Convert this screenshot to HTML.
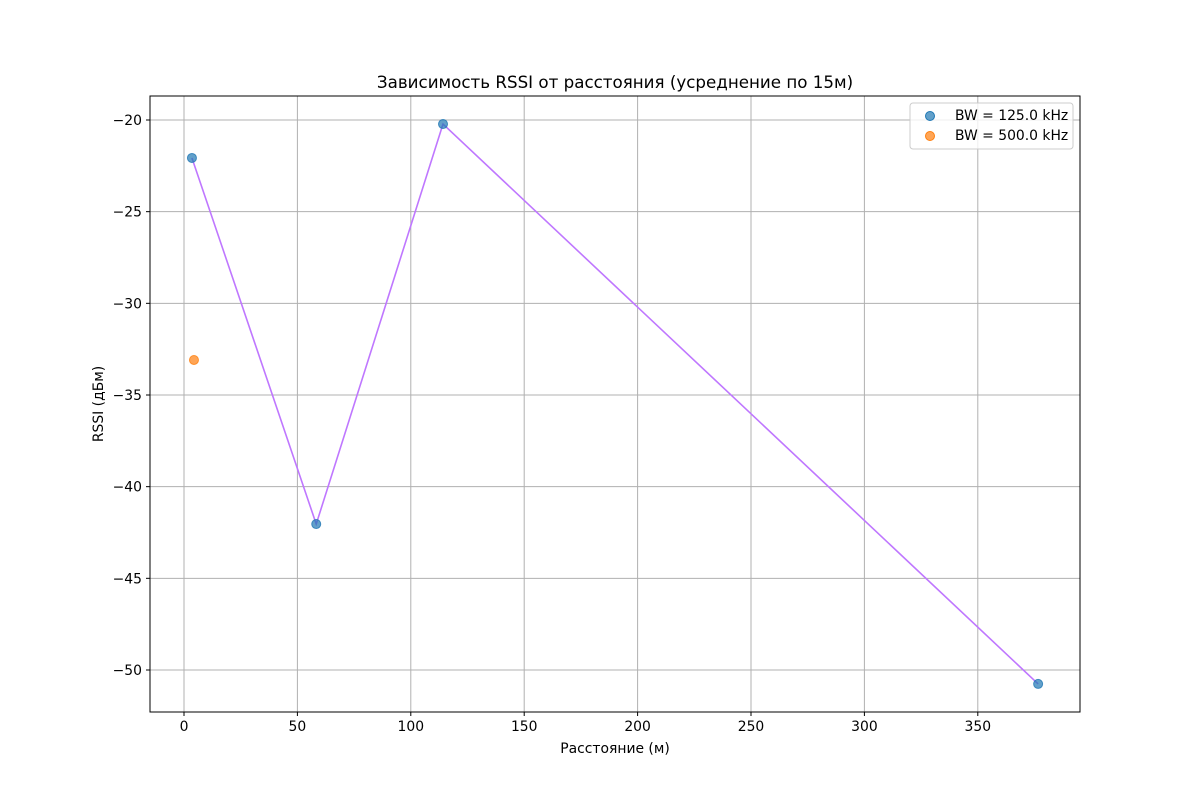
<!DOCTYPE html>
<html><head><meta charset="utf-8"><style>
body{margin:0;background:#fff}
svg text{font-family:"DejaVu Sans","Liberation Sans",sans-serif;fill:#000}
</style></head><body>
<svg width="1200" height="800" xmlns="http://www.w3.org/2000/svg">
<rect width="1200" height="800" fill="#fff"/>
<g id="grid"></g>
<g id="plot"></g>
<rect x="150" y="96" width="930" height="616" fill="none" stroke="#000" stroke-width="1"/>
<g id="ticks"></g>
<text x="615" y="88" text-anchor="middle" font-size="16.7">Зависимость RSSI от расстояния (усреднение по 15м)</text>
<text x="615" y="753" text-anchor="middle" font-size="13.9">Расстояние (м)</text>
<text x="103" y="404" text-anchor="middle" font-size="13.9" transform="rotate(-90 103 404)">RSSI (дБм)</text>
<g>
<rect x="910" y="103" width="163" height="46" rx="3" fill="#fff" fill-opacity="0.8" stroke="#ccc"/>
<circle cx="930" cy="116" r="4.5" fill="#1f77b4" fill-opacity="0.7" stroke="#1f77b4"/>
<text x="955" y="120" font-size="13.9">BW = 125.0 kHz</text>
<circle cx="930" cy="136" r="4.5" fill="#ff7f0e" fill-opacity="0.7" stroke="#ff7f0e"/>
<text x="955" y="140" font-size="13.9">BW = 500.0 kHz</text>
</g>
</svg>
<script>
const xTicks=[0,50,100,150,200,250,300,350];
const yTicks=[-20,-25,-30,-35,-40,-45,-50];
const bw125X=[3.5,58.3,114.2,376.6];
const bw125Y=[-22.07,-42.04,-20.22,-50.76];
const bw500X=[4.4];
const bw500Y=[-33.09];
const ns="http://www.w3.org/2000/svg";
const X=v=>184+v*2.268, Y=v=>120-(v+20)*18.333;
function mk(t,a,p){const e=document.createElementNS(ns,t);for(const k in a)e.setAttribute(k,a[k]);p.appendChild(e);return e;}
const g=document.getElementById('grid'),tk=document.getElementById('ticks'),pl=document.getElementById('plot');
xTicks.forEach(v=>{const x=X(v);
mk('line',{x1:x,x2:x,y1:96,y2:712,stroke:'#b0b0b0','stroke-width':1},g);
mk('line',{x1:x,x2:x,y1:712,y2:716,stroke:'#000'},tk);
const t=mk('text',{x:x,y:731,'text-anchor':'middle','font-size':13.9},tk);t.textContent=v;

});
yTicks.forEach(v=>{const y=Y(v);
mk('line',{x1:150,x2:1080,y1:y,y2:y,stroke:'#b0b0b0','stroke-width':1},g);
mk('line',{x1:146,x2:150,y1:y,y2:y,stroke:'#000'},tk);
const t=mk('text',{x:142,y:y+5,'text-anchor':'end','font-size':13.9},tk);t.textContent='\u2212'+Math.abs(v);

});
const ln=mk('polyline',{points:bw125X.map((x,i)=>X(x)+','+Y(bw125Y[i])).join(' '),fill:'none',stroke:'#bf77ff','stroke-width':1.6},pl);


bw125X.forEach((x,i)=>{const c=mk('circle',{cx:X(x),cy:Y(bw125Y[i]),r:4.5,fill:'#1f77b4','fill-opacity':0.7,stroke:'#1f77b4','stroke-opacity':0.8},pl);

});
bw500X.forEach((x,i)=>{const c=mk('circle',{cx:X(x),cy:Y(bw500Y[i]),r:4.5,fill:'#ff7f0e','fill-opacity':0.7,stroke:'#ff7f0e','stroke-opacity':0.8},pl);

});
</script>
</body></html>
